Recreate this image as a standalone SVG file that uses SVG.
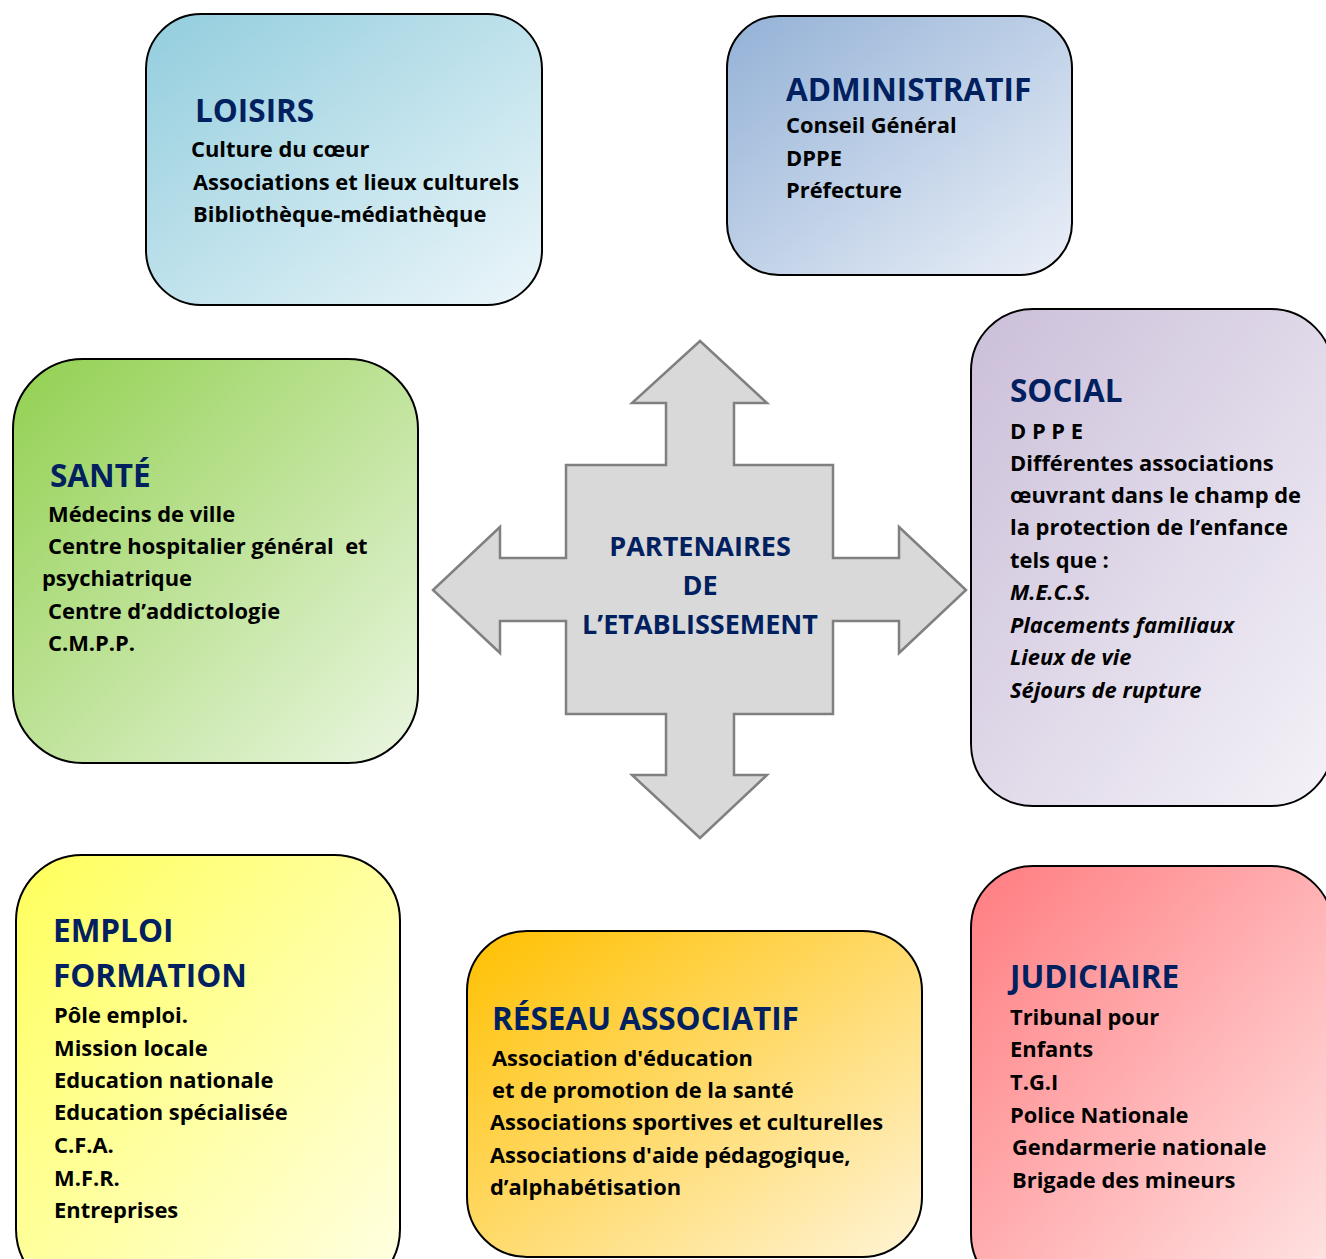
<svg xmlns="http://www.w3.org/2000/svg" width="1326" height="1259" viewBox="0 0 1326 1259">
<style>
.box{stroke:#000;stroke-width:2}
.h{font-family:"Open Sans","Liberation Sans",sans-serif;font-weight:bold;font-size:31.5px;fill:#002060}
.t{font-family:"Open Sans","Liberation Sans",sans-serif;font-weight:bold;font-size:21.9px;fill:#000}
.i{font-style:italic}
.c{font-family:"Open Sans","Liberation Sans",sans-serif;font-weight:bold;font-size:27px;fill:#002060;text-anchor:middle}
</style>
<defs>
<linearGradient id="gLoi" x1="0" y1="0" x2="1" y2="1"><stop offset="0" stop-color="#92cddd"/><stop offset="1" stop-color="#ecf6fa"/></linearGradient>
<linearGradient id="gAdm" x1="0" y1="0" x2="1" y2="1"><stop offset="0" stop-color="#93b1d6"/><stop offset="1" stop-color="#ebf0f8"/></linearGradient>
<linearGradient id="gSoc" x1="0" y1="0" x2="1" y2="1"><stop offset="0" stop-color="#cbbfd9"/><stop offset="1" stop-color="#f4f2f8"/></linearGradient>
<linearGradient id="gSan" x1="0" y1="0" x2="1" y2="1"><stop offset="0" stop-color="#92d050"/><stop offset="1" stop-color="#ebf6e2"/></linearGradient>
<linearGradient id="gEmp" x1="0" y1="0" x2="1" y2="1"><stop offset="0" stop-color="#ffff5a"/><stop offset="1" stop-color="#ffffe6"/></linearGradient>
<linearGradient id="gRes" x1="0" y1="0" x2="1" y2="1"><stop offset="0" stop-color="#ffc000"/><stop offset="1" stop-color="#fff4d6"/></linearGradient>
<linearGradient id="gJud" x1="0" y1="0" x2="1" y2="1"><stop offset="0" stop-color="#ff7c80"/><stop offset="1" stop-color="#ffe6e6"/></linearGradient>
</defs>
<rect width="1326" height="1259" fill="#fff"/>

<g id="connectors"></g>

<g id="center">
<path d="M700,341 L767,403 L734,403 L734,465 L833,465 L833,558 L899,558 L899,527 L966,590 L899,653 L899,621 L833,621 L833,714 L734,714 L734,775 L767,775 L700,838 L632,775 L666,775 L666,714 L566,714 L566,621 L500,621 L500,653 L433,590 L500,527 L500,558 L566,558 L566,465 L666,465 L666,403 L632,403 Z" fill="#d9d9d9" stroke="#808080" stroke-width="2.5"/>
<text class="c" x="700" y="556">PARTENAIRES</text>
<text class="c" x="700" y="595">DE</text>
<text class="c" x="700" y="634">L’ETABLISSEMENT</text>
</g>

<g id="loisirs">
<rect class="box" x="146" y="14" width="396" height="291" rx="55" fill="url(#gLoi)"/>
<text class="h" x="195" y="122">LOISIRS</text>
<text class="t" x="191" y="157">Culture du cœur</text>
<text class="t" x="193" y="190">Associations et lieux culturels</text>
<text class="t" x="193" y="222">Bibliothèque-médiathèque</text>
</g>

<g id="administratif">
<rect class="box" x="727" y="16" width="345" height="259" rx="52" fill="url(#gAdm)"/>
<text class="h" x="786" y="101">ADMINISTRATIF</text>
<text class="t" x="786" y="133">Conseil Général</text>
<text class="t" x="786" y="166">DPPE</text>
<text class="t" x="786" y="198">Préfecture</text>
</g>

<g id="social">
<rect class="box" x="971" y="309" width="362" height="497" rx="62" fill="url(#gSoc)"/>
<text class="h" x="1010" y="402">SOCIAL</text>
<text class="t" x="1010" y="439">D P P E</text>
<text class="t" x="1010" y="471">Différentes associations</text>
<text class="t" x="1010" y="503">œuvrant dans le champ de</text>
<text class="t" x="1010" y="535">la protection de l’enfance</text>
<text class="t" x="1010" y="568">tels que :</text>
<text class="t i" x="1010" y="600">M.E.C.S.</text>
<text class="t i" x="1010" y="633">Placements familiaux</text>
<text class="t i" x="1010" y="665">Lieux de vie</text>
<text class="t i" x="1010" y="698">Séjours de rupture</text>
</g>

<g id="sante">
<rect class="box" x="13" y="359" width="405" height="404" rx="70" fill="url(#gSan)"/>
<text class="h" x="50" y="487">SANTÉ</text>
<text class="t" x="48" y="522">Médecins de ville</text>
<text class="t" x="48" y="554" xml:space="preserve">Centre hospitalier général  et</text>
<text class="t" x="42" y="586">psychiatrique</text>
<text class="t" x="48" y="619">Centre d’addictologie</text>
<text class="t" x="48" y="651">C.M.P.P.</text>
</g>

<g id="emploi">
<rect class="box" x="16" y="855" width="384" height="440" rx="66" fill="url(#gEmp)"/>
<text class="h" x="53" y="942">EMPLOI</text>
<text class="h" x="53" y="987">FORMATION</text>
<text class="t" x="54" y="1023">Pôle emploi.</text>
<text class="t" x="54" y="1056">Mission locale</text>
<text class="t" x="54" y="1088">Education nationale</text>
<text class="t" x="54" y="1120">Education spécialisée</text>
<text class="t" x="54" y="1153">C.F.A.</text>
<text class="t" x="54" y="1186">M.F.R.</text>
<text class="t" x="54" y="1218">Entreprises</text>
</g>

<g id="reseau">
<rect class="box" x="467" y="931" width="455" height="326" rx="60" fill="url(#gRes)"/>
<text class="h" x="492" y="1030">RÉSEAU ASSOCIATIF</text>
<text class="t" x="492" y="1066">Association d'éducation</text>
<text class="t" x="492" y="1098">et de promotion de la santé</text>
<text class="t" x="490" y="1130">Associations sportives et culturelles</text>
<text class="t" x="490" y="1163">Associations d'aide pédagogique,</text>
<text class="t" x="490" y="1195">d’alphabétisation</text>
</g>

<g id="judiciaire">
<rect class="box" x="971" y="866" width="362" height="430" rx="62" fill="url(#gJud)"/>
<text class="h" x="1010" y="988">JUDICIAIRE</text>
<text class="t" x="1010" y="1025">Tribunal pour</text>
<text class="t" x="1010" y="1057">Enfants</text>
<text class="t" x="1010" y="1090">T.G.I</text>
<text class="t" x="1010" y="1123">Police Nationale</text>
<text class="t" x="1012" y="1155">Gendarmerie nationale</text>
<text class="t" x="1012" y="1188">Brigade des mineurs</text>
</g>
</svg>
